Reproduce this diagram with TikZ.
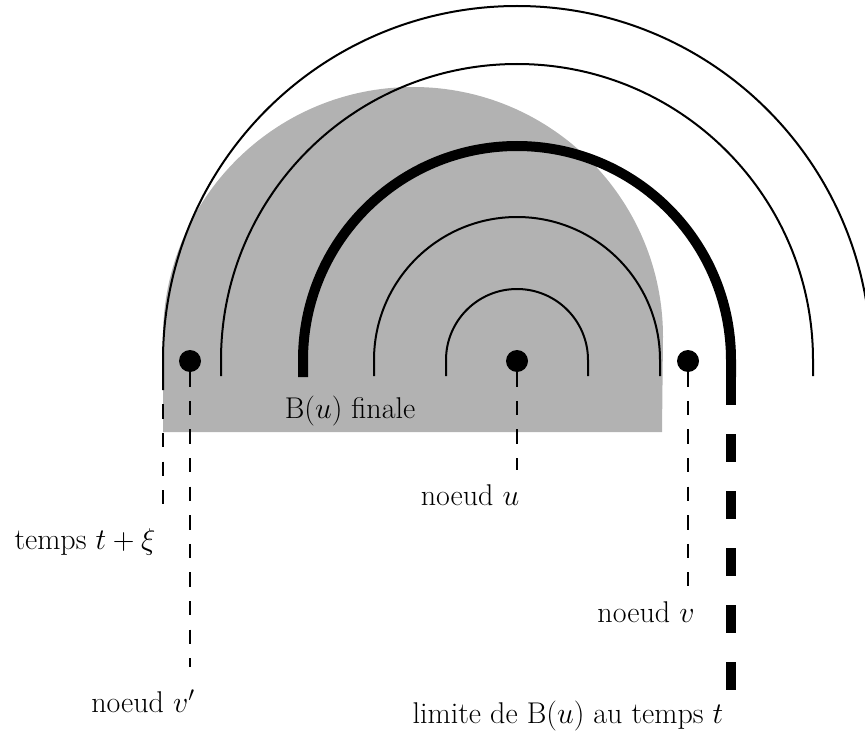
\documentclass[tikz,border=0pt]{standalone}
\usepackage{fix-cm}
\begin{document}
\begin{tikzpicture}[x=1pt,y=1pt,
  thinarc/.style={line width=2pt},
  thickarc/.style={line width=10pt},
  thindash/.style={line width=2pt, dash pattern=on 14.3pt off 14.3pt},
  thickdash/.style={line width=10pt, dash pattern=on 28pt off 29pt},
  dot/.style={circle, fill=black, draw=none, inner sep=0pt, minimum size=22pt},
  lab/.style={anchor=base, inner sep=0pt, font=\fontsize{30}{36}\selectfont}]
\useasboundingbox (0,0) rectangle (865,-733);
% final ball B(u)
\fill[black!30] (163,-337) arc[start angle=180, end angle=0, radius=250pt]
  -- (662,-432) -- (163,-432) -- cycle;
% concentric arcs around u
\draw[thinarc] (446,-376) -- (446,-360) arc[start angle=180, end angle=0, radius=71pt] -- (588,-376);
\draw[thinarc] (374,-376) -- (374,-360) arc[start angle=180, end angle=0, radius=143pt] -- (660,-376);
\draw[thickarc] (303,-377) -- (303,-360) arc[start angle=180, end angle=0, radius=214pt] -- (731,-377) coordinate (limtop);
\draw[thinarc] (221,-376) -- (221,-360) arc[start angle=180, end angle=0, radius=296pt] -- (813,-376);
\draw[thinarc] (163,-390) coordinate (otop) -- (163,-360) arc[start angle=180, end angle=0, radius=354pt] -- (871,-376);
% labels
\node[lab] (lfinale) at (350,-418) {$\mathrm{B}(u)$ finale};
\node[lab] (ltemps) at (85,-549) {temps $t+\xi$};
\node[lab] (lu) at (470,-505) {noeud $u$};
\node[lab] (lvp) at (143,-712) {noeud $v'$};
\node[lab] (lv) at (646,-622) {noeud $v$};
\node[lab] (llim) at (568,-723) {limite de $\mathrm{B}(u)$ au temps $t$};
% nodes
\node[dot] (vp) at (190,-361) {};
\node[dot] (u) at (517,-361) {};
\node[dot] (v) at (688,-361) {};
% dashed connectors
\coordinate (oend) at (163,-505);
\coordinate (vpend) at (190,-667);
\coordinate (uend) at (517,-470);
\coordinate (vend) at (688,-586);
\coordinate (limend) at (731,-692);
\draw[thindash, dash phase=14.3pt] (otop) -- (oend);
\draw[thindash] (vp.south) -- (vpend);
\draw[thindash] (u.south) -- (uend);
\draw[thindash] (v.south) -- (vend);
\draw[thickdash] (limtop) -- (limend);
\end{tikzpicture}
\end{document}
